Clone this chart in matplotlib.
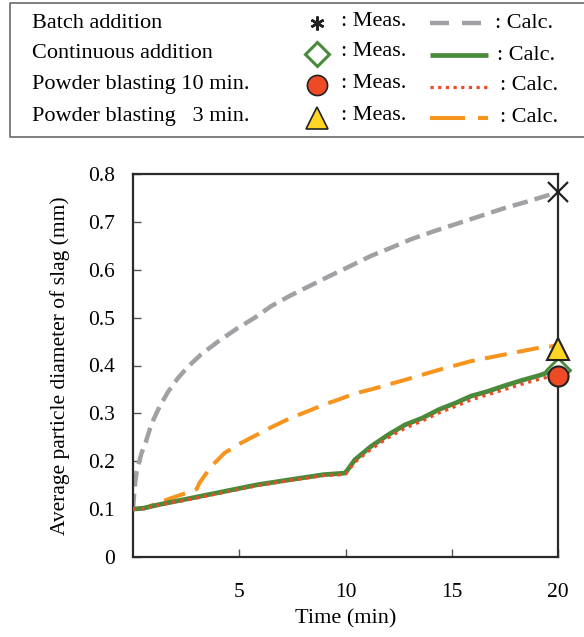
import matplotlib
matplotlib.use("Agg")
import matplotlib.pyplot as plt

plt.rcParams['font.family'] = ['Liberation Serif', 'DejaVu Serif']

# ---------------- data ----------------
batch_t = [0, 0.05, 0.1, 0.17, 0.4, 0.6, 0.87, 1.26, 1.65, 2.12, 2.6, 3.2, 4.0, 4.92, 5.7, 6.5,
           7.4, 8.35, 9.3, 10.1, 11.2, 12.2, 13.1, 14.2, 15.3, 16.4, 17.5, 18.6, 19.7, 20]
batch_v = [0.10, 0.13, 0.155, 0.178, 0.217, 0.240, 0.278, 0.315, 0.345, 0.374, 0.398, 0.423, 0.45,
           0.478, 0.499, 0.524, 0.546, 0.567, 0.588, 0.605, 0.629, 0.647, 0.664, 0.681, 0.697,
           0.713, 0.729, 0.743, 0.758, 0.762]

cont_t = [0, 0.5, 1.18, 2.74, 4.3, 5.86, 7.4, 8.97, 9.9, 10.0, 10.44, 11.2, 12.0, 12.8, 13.6,
          14.4, 15.2, 15.9, 16.7, 17.5, 18.3, 19.1, 19.7, 20]
cont_v = [0.10, 0.102, 0.109, 0.123, 0.137, 0.151, 0.1615, 0.172, 0.175, 0.176, 0.203, 0.231,
          0.255, 0.276, 0.29, 0.308, 0.322, 0.336, 0.346, 0.358, 0.369, 0.379, 0.388, 0.391]

pb10_t = [0, 0.5, 1.18, 2.74, 4.3, 5.86, 7.4, 8.97, 9.9, 10.0, 10.44, 11.2, 12.0, 12.8, 13.6,
          14.4, 15.2, 15.9, 16.7, 17.5, 18.3, 19.1, 19.7, 20]
pb10_v = [0.10, 0.101, 0.108, 0.121, 0.135, 0.149, 0.160, 0.170, 0.172, 0.173, 0.198, 0.225,
          0.249, 0.269, 0.284, 0.301, 0.315, 0.328, 0.339, 0.350, 0.361, 0.371, 0.378, 0.381]

pb3_t = [0, 0.56, 1.18, 1.8, 2.74, 3.0, 3.13, 3.68, 4.3, 5.08, 5.86, 6.6, 7.4, 8.2, 8.97, 9.75,
         10.4, 11.2, 12.8, 14.4, 15.9, 17.5, 19.1, 19.7, 20]
pb3_v = [0.10, 0.102, 0.113, 0.123, 0.137, 0.142, 0.155, 0.189, 0.217, 0.238, 0.256, 0.273,
         0.29, 0.304, 0.318, 0.33, 0.341, 0.35, 0.37, 0.391, 0.409, 0.423, 0.437, 0.44, 0.442]

meas_t = 20
meas_batch = 0.762
meas_cont = 0.391
meas_pb10 = 0.379
meas_pb3 = 0.435

names = ["Batch addition", "Continuous addition", "Powder blasting 10 min.", "Powder blasting   3 min."]

gray = '#A0A1A4'
green = '#4A8A3B'
red = '#EF4A26'
orange = '#F7941E'
yellow = '#FFD422'

# ---------------- figure ----------------
W, H = 584, 637
fig = plt.figure(figsize=(W / 100, H / 100), dpi=100)

L, R, T, B = 133, 558, 174, 557
ax = fig.add_axes([L / W, 1 - B / H, (R - L) / W, (B - T) / H])

ax.plot(batch_t, batch_v, color=gray, lw=3.2, linestyle=(0, (3.5, 1.6)), dash_capstyle='butt', zorder=2)
ax.plot(pb3_t, pb3_v, color=orange, lw=2.9, linestyle=(0, (5.5, 2.6)), dash_capstyle='butt', zorder=2)
ax.plot(cont_t, cont_v, color=green, lw=3.4, zorder=3)
ax.plot(pb10_t, pb10_v, color=red, lw=2.3, linestyle=(0, (1, 1.5)), dash_capstyle='butt', zorder=4)

ax.plot([meas_t], [meas_batch], marker='x', ms=15, mew=1.6, color='#222222', clip_on=False, zorder=6)
ax.plot([meas_t], [meas_cont], marker='D', ms=12, mew=2, mfc='white', mec=green, clip_on=False, zorder=5)
ax.plot([meas_t], [meas_pb10], marker='o', ms=14.5, mew=1.5, mfc=red, mec='#222222', clip_on=False, zorder=6)
ax.plot([meas_t], [meas_pb3], marker='^', ms=15.5, mew=1.5, mfc=yellow, mec='#222222', clip_on=False, zorder=7)

ax.set_xlim(0, 20)
ax.set_ylim(0, 0.8)
ax.set_xticks([5, 10, 15, 20])
ax.set_xticklabels(['5', '10', '15', '20'])
ax.set_yticks([0, 0.1, 0.2, 0.3, 0.4, 0.5, 0.6, 0.7, 0.8])
ax.set_yticklabels(['0', '0.1', '0.2', '0.3', '0.4', '0.5', '0.6', '0.7', '0.8'])
for s in ax.spines.values():
    s.set_linewidth(1.6)
    s.set_color('#2a2a2a')
ax.tick_params(axis='both', direction='in', labelsize=15.5, color='#555555', width=1.0, length=6)
ax.tick_params(axis='x', pad=19)
ax.tick_params(axis='y', pad=13)
ax.set_xlabel('Time (min)', fontsize=16, labelpad=5)
ax.set_ylabel('Average particle diameter of slag (mm)', fontsize=15.5, labelpad=13)

# ---------------- legend (manual) ----------------
lg = fig.add_axes([0, 0, 1, 1], zorder=-1)
lg.set_xlim(0, W)
lg.set_ylim(H, 0)
lg.axis('off')
lg.patch.set_alpha(0)
lg.plot([W + 5, 10, 10, W + 5], [3, 3, 137, 137], color='#6a6a6a', lw=1.2, clip_on=False)

rows = [23, 54, 85, 117]
fs = 16
for y, n in zip(rows, names):
    lg.text(32, y, n, fontsize=fs, va='center', ha='left')
    lg.text(341, y - 2, ': Meas.', fontsize=fs, va='center', ha='left')

calc_x = [495, 497, 500, 500]
for y, cx in zip(rows, calc_x):
    lg.text(cx, y + 1, ': Calc.', fontsize=fs, va='center', ha='left')

# markers
lg.plot([317], [rows[0]], marker=(6, 2, 0), ms=10, mew=1.8, color='#222222')
lg.plot([317], [rows[1]], marker='D', ms=12.5, mew=2.2, mfc='white', mec=green)
lg.plot([317], [rows[2]], marker='o', ms=14.5, mew=1.2, mfc=red, mec='#222222')
lg.plot([317], [rows[3] + 1], marker='^', ms=16, mew=1.2, mfc=yellow, mec='#222222')

# line samples
lg.plot([430, 449], [rows[0], rows[0]], color=gray, lw=3.2, solid_capstyle='butt')
lg.plot([462, 481], [rows[0], rows[0]], color=gray, lw=3.2, solid_capstyle='butt')
lg.plot([430, 488], [rows[1] + 1, rows[1] + 1], color=green, lw=3.4, solid_capstyle='butt')
lg.plot([430, 489], [rows[2] + 2, rows[2] + 2], color=red, lw=2.3, linestyle=(0, (1, 1.4)), dash_capstyle='butt')
lg.plot([430, 465], [rows[3] + 1, rows[3] + 1], color=orange, lw=2.9, solid_capstyle='butt')
lg.plot([478, 488], [rows[3] + 1, rows[3] + 1], color=orange, lw=2.9, solid_capstyle='butt')

fig.savefig('out.png', dpi=100)
